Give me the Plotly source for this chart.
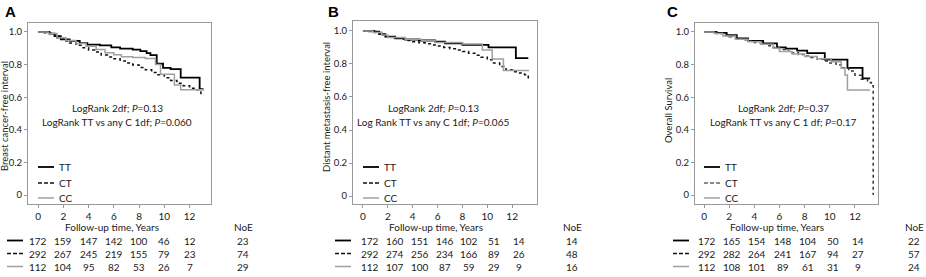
import plotly.graph_objects as go

W, H = 926, 277

# ---------------- data ----------------
panel_letters = ["A", "B", "C"]
y_titles = ["Breast cancer-free interval", "Distant metastasis-free interval", "Overall Survival"]
x_title = "Follow-up time, Years"
group_names = ["TT", "CT", "CC"]
logrank_1 = ["LogRank 2df; <i>P</i>=0.13", "LogRank 2df; <i>P</i>=0.13", "LogRank 2df; <i>P</i>=0.37"]
logrank_2 = ["LogRank TT vs any C 1df; <i>P</i>=0.060",
             "Log Rank TT vs any C 1df; <i>P</i>=0.065",
             "LogRank TT vs any C 1 df; <i>P</i>=0.17"]

x_ticks = [0, 2, 4, 6, 8, 10, 12]
y_ticks = [0, 0.2, 0.4, 0.6, 0.8, 1.0]
y_ticktext = ["0", "0.2", "0.4", "0.6", "0.8", "1.0"]

# Panel A - breast cancer-free interval
A_TT_t = [0, 0.9, 1.3, 1.8, 2.5, 3.3, 3.9, 4.9, 5.8, 6.5, 7.5, 8.1, 8.6, 8.9, 9.4, 9.9, 10.5, 11.3, 12.8, 13.1]
A_TT_s = [1.0, 0.99, 0.975, 0.955, 0.945, 0.932, 0.922, 0.918, 0.905, 0.898, 0.892, 0.882, 0.87, 0.858, 0.805, 0.78, 0.772, 0.72, 0.65, 0.65]
A_CT_t = [0, 0.5, 1.0, 1.5, 2.0, 2.5, 3.0, 3.5, 4.0, 4.5, 5.0, 5.5, 6.0, 6.5, 7.0, 7.5, 8.0, 8.5,
          9.0, 9.5, 10.0, 10.5, 11.0, 11.5, 12.0, 12.5, 12.9, 13.1]
A_CT_s = [1.0, 0.995, 0.985, 0.965, 0.945, 0.932, 0.918, 0.903, 0.89, 0.877, 0.858, 0.847, 0.835,
          0.822, 0.81, 0.797, 0.782, 0.768, 0.752, 0.737, 0.72, 0.703, 0.685, 0.67, 0.655, 0.645, 0.615, 0.615]
A_CC_t = [0, 0.8, 1.5, 2.2, 3.0, 3.8, 4.6, 5.3, 6.0, 6.6, 7.5, 8.5, 9.3, 9.7, 10.8, 11.3, 13.1]
A_CC_s = [1.0, 0.99, 0.965, 0.948, 0.93, 0.912, 0.893, 0.872, 0.86, 0.848, 0.843, 0.838, 0.8, 0.74, 0.675, 0.645, 0.64]

# Panel B - distant metastasis-free interval
B_TT_t = [0, 0.9, 1.3, 1.8, 2.6, 3.4, 4.5, 5.8, 6.6, 8.0, 10.1, 12.3, 13.3]
B_TT_s = [1.0, 0.995, 0.98, 0.965, 0.955, 0.948, 0.942, 0.935, 0.925, 0.915, 0.9, 0.835, 0.835]
B_CT_t = [0, 0.5, 1.0, 1.5, 2.0, 2.5, 3.0, 3.5, 4.0, 4.5, 5.0, 5.5, 6.0, 6.5, 7.0, 7.5, 8.0, 8.5,
          9.0, 9.5, 10.0, 10.5, 11.0, 11.5, 12.0, 12.5, 13.0, 13.3]
B_CT_s = [1.0, 0.997, 0.99, 0.975, 0.965, 0.958, 0.95, 0.942, 0.935, 0.928, 0.922, 0.915, 0.908,
          0.9, 0.892, 0.884, 0.875, 0.865, 0.853, 0.84, 0.825, 0.805, 0.785, 0.765, 0.752, 0.745, 0.735, 0.71]
B_CC_t = [0, 0.8, 1.5, 2.0, 3.4, 4.7, 5.8, 8.0, 9.6, 10.4, 11.3, 13.3]
B_CC_s = [1.0, 0.99, 0.975, 0.96, 0.95, 0.94, 0.93, 0.92, 0.885, 0.83, 0.76, 0.755]

# Panel C - overall survival
C_TT_t = [0, 1.0, 1.8, 2.6, 3.5, 4.7, 5.8, 6.5, 7.4, 8.2, 9.6, 11.4, 12.6, 13.2]
C_TT_s = [1.0, 0.995, 0.98, 0.96, 0.945, 0.93, 0.905, 0.898, 0.885, 0.87, 0.83, 0.78, 0.716, 0.716]
C_CT_t = [0, 0.5, 1.0, 1.5, 2.0, 2.5, 3.0, 3.5, 4.0, 4.5, 5.0, 5.5, 6.0, 6.5, 7.0, 7.5, 8.0, 8.5,
          9.0, 9.5, 10.0, 10.5, 11.0, 11.5, 12.0, 12.5, 13.0, 13.3, 13.45]
C_CT_s = [1.0, 0.998, 0.99, 0.98, 0.97, 0.96, 0.952, 0.944, 0.935, 0.925, 0.915, 0.905, 0.893,
          0.882, 0.872, 0.862, 0.853, 0.843, 0.833, 0.822, 0.81, 0.798, 0.78, 0.76, 0.735, 0.71, 0.69, 0.67, 0.0]
C_CC_t = [0, 0.8, 1.5, 2.5, 3.5, 4.5, 5.5, 6.0, 7.0, 8.0, 9.0, 10.1, 10.9, 11.2, 11.4, 13.2]
C_CC_s = [1.0, 0.99, 0.975, 0.955, 0.94, 0.925, 0.9, 0.88, 0.865, 0.85, 0.835, 0.818, 0.777, 0.736, 0.644, 0.644]

curves = [
    [(A_TT_t, A_TT_s), (A_CT_t, A_CT_s), (A_CC_t, A_CC_s)],
    [(B_TT_t, B_TT_s), (B_CT_t, B_CT_s), (B_CC_t, B_CC_s)],
    [(C_TT_t, C_TT_s), (C_CT_t, C_CT_s), (C_CC_t, C_CC_s)],
]

# numbers at risk
risk_times = [0, 2, 4, 6, 8, 10, 12]
risk_A = [[172, 159, 147, 142, 100, 46, 12], [292, 267, 245, 219, 155, 79, 23], [112, 104, 95, 82, 53, 26, 7]]
risk_B = [[172, 160, 151, 146, 102, 51, 14], [292, 274, 256, 234, 166, 89, 26], [112, 107, 100, 87, 59, 29, 9]]
risk_C = [[172, 165, 154, 148, 104, 50, 14], [292, 282, 264, 241, 167, 94, 27], [112, 108, 101, 89, 61, 31, 9]]
risks = [risk_A, risk_B, risk_C]
noe = [[23, 74, 29], [14, 48, 16], [22, 57, 24]]

# ---------------- layout / style ----------------
FONT = "Lato"
FS = 10
TXT = "#1a1a1a"
BOX = "#9a9a9a"
styles = [dict(color="#000000", width=1.8, dash="solid"),
          dict(color="#111111", width=1.5, dash="dot"),
          dict(color="#a0a0a0", width=1.5, dash="solid")]

# pixel boxes (left, right, top, bottom) and axis ranges
boxes = [(28, 211, 23, 204), (353, 537, 21, 204), (695, 878, 23, 204)]
xranges = [[-0.8, 13.7], [-0.8, 14.0], [-0.72, 13.83]]
yranges = [[-0.055, 1.055], [-0.048, 1.06], [-0.055, 1.055]]
risk_shift = [0, 7, 3]


def px(x):
    return x / W


def py(y):
    return 1 - y / H


def txt(text, x, y, xref="paper", xanchor="center", size=FS, **kw):
    d = dict(text=text, x=x, y=y, xref=xref, yref="paper", xanchor=xanchor, yanchor="middle",
             showarrow=False, font=dict(family=FONT, size=size, color=TXT))
    d.update(kw)
    return d


fig = go.Figure()
annotations = []
shapes = []

for p in range(3):
    l, r, t, b = boxes[p]
    sfx = "" if p == 0 else str(p + 1)
    xa, ya = "x" + sfx, "y" + sfx
    for g in range(3):
        tt, ss = curves[p][g]
        st = dict(styles[g])
        if p == 2 and g == 1:
            st["color"] = "#333333"
        fig.add_trace(go.Scatter(x=tt, y=ss, mode="lines", line_shape="hv",
                                 line=st, showlegend=False, hoverinfo="skip",
                                 xaxis=xa, yaxis=ya))
    axcommon = dict(showline=True, mirror=True, linecolor=BOX, linewidth=1,
                    ticks="outside", ticklen=3, tickcolor=BOX, showgrid=False,
                    zeroline=False)
    fig.layout["xaxis" + sfx] = dict(domain=[px(l), px(r)], range=xranges[p],
                                      tickvals=x_ticks, anchor=ya,
                                      tickfont=dict(family=FONT, size=FS, color=TXT), **axcommon)
    fig.layout["yaxis" + sfx] = dict(domain=[py(b), py(t)], range=yranges[p],
                                      tickvals=y_ticks, ticktext=y_ticktext, anchor=xa,
                                      tickfont=dict(family=FONT, size=9.5, color=TXT), **axcommon)

    # panel letter
    annotations.append(dict(text="<b>%s</b>" % panel_letters[p], x=px([3, 326, 665][p]), y=py(11),
                            xref="paper", yref="paper", xanchor="left", yanchor="middle",
                            showarrow=False, font=dict(family="Liberation Sans", size=15, color="#000")))
    # y title
    annotations.append(txt(y_titles[p], px([5, 327, 669][p]), py([116, 107, 111][p]),
                           size=9.5, textangle=-90))
    # x title
    annotations.append(txt(x_title, px([112, 436, 777][p]), py(227)))
    # log-rank text
    cx = [117, 433, 783][p]
    annotations.append(txt(logrank_1[p], px(cx), py(108)))
    annotations.append(txt(logrank_2[p], px(cx), py(122)))

    # in-plot legend
    lx0 = [38, 363, 704][p]
    for g, yy in enumerate([167, 183, 198]):
        st = dict(styles[g])
        if g == 1:
            st = dict(color="#111111" if p < 2 else "#666666", width=1.5, dash="4px,2px")
        shapes.append(dict(type="line", xref="paper", yref="paper",
                           x0=px(lx0), x1=px(lx0 + 16), y0=py(yy), y1=py(yy), line=st))
        annotations.append(txt(group_names[g], px(lx0 + 19), py(yy), xanchor="left"))

    # risk table
    sx0 = [7, 335, 673][p]
    rows_y = [240.5, 253.5, 266.5]
    for g in range(3):
        st = dict(styles[g])
        if g == 1:
            st = dict(color="#111111", width=1.5, dash="4px,2px")
        shapes.append(dict(type="line", xref="paper", yref="paper",
                           x0=px(sx0), x1=px(sx0 + 16), y0=py(rows_y[g]), y1=py(rows_y[g]), line=st))
        for i, tv in enumerate(risk_times):
            annotations.append(txt(str(risks[p][g][i]), tv, py(rows_y[g]), xref=xa, xshift=risk_shift[p]))
        annotations.append(txt(str(noe[p][g]), px([243, 572, 914][p]), py(rows_y[g])))
    annotations.append(txt("NoE", px([243, 572, 914][p]), py(227)))

fig.update_layout(width=W, height=H, margin=dict(l=0, r=0, t=0, b=0),
                  paper_bgcolor="white", plot_bgcolor="white",
                  annotations=annotations, shapes=shapes, showlegend=False)

# remove the default page margin so the figure sits at the window's top-left corner
fig.write_html("out.html", config={"displayModeBar": False},
               post_script="document.body.style.margin='0';document.body.style.overflow='hidden';")
